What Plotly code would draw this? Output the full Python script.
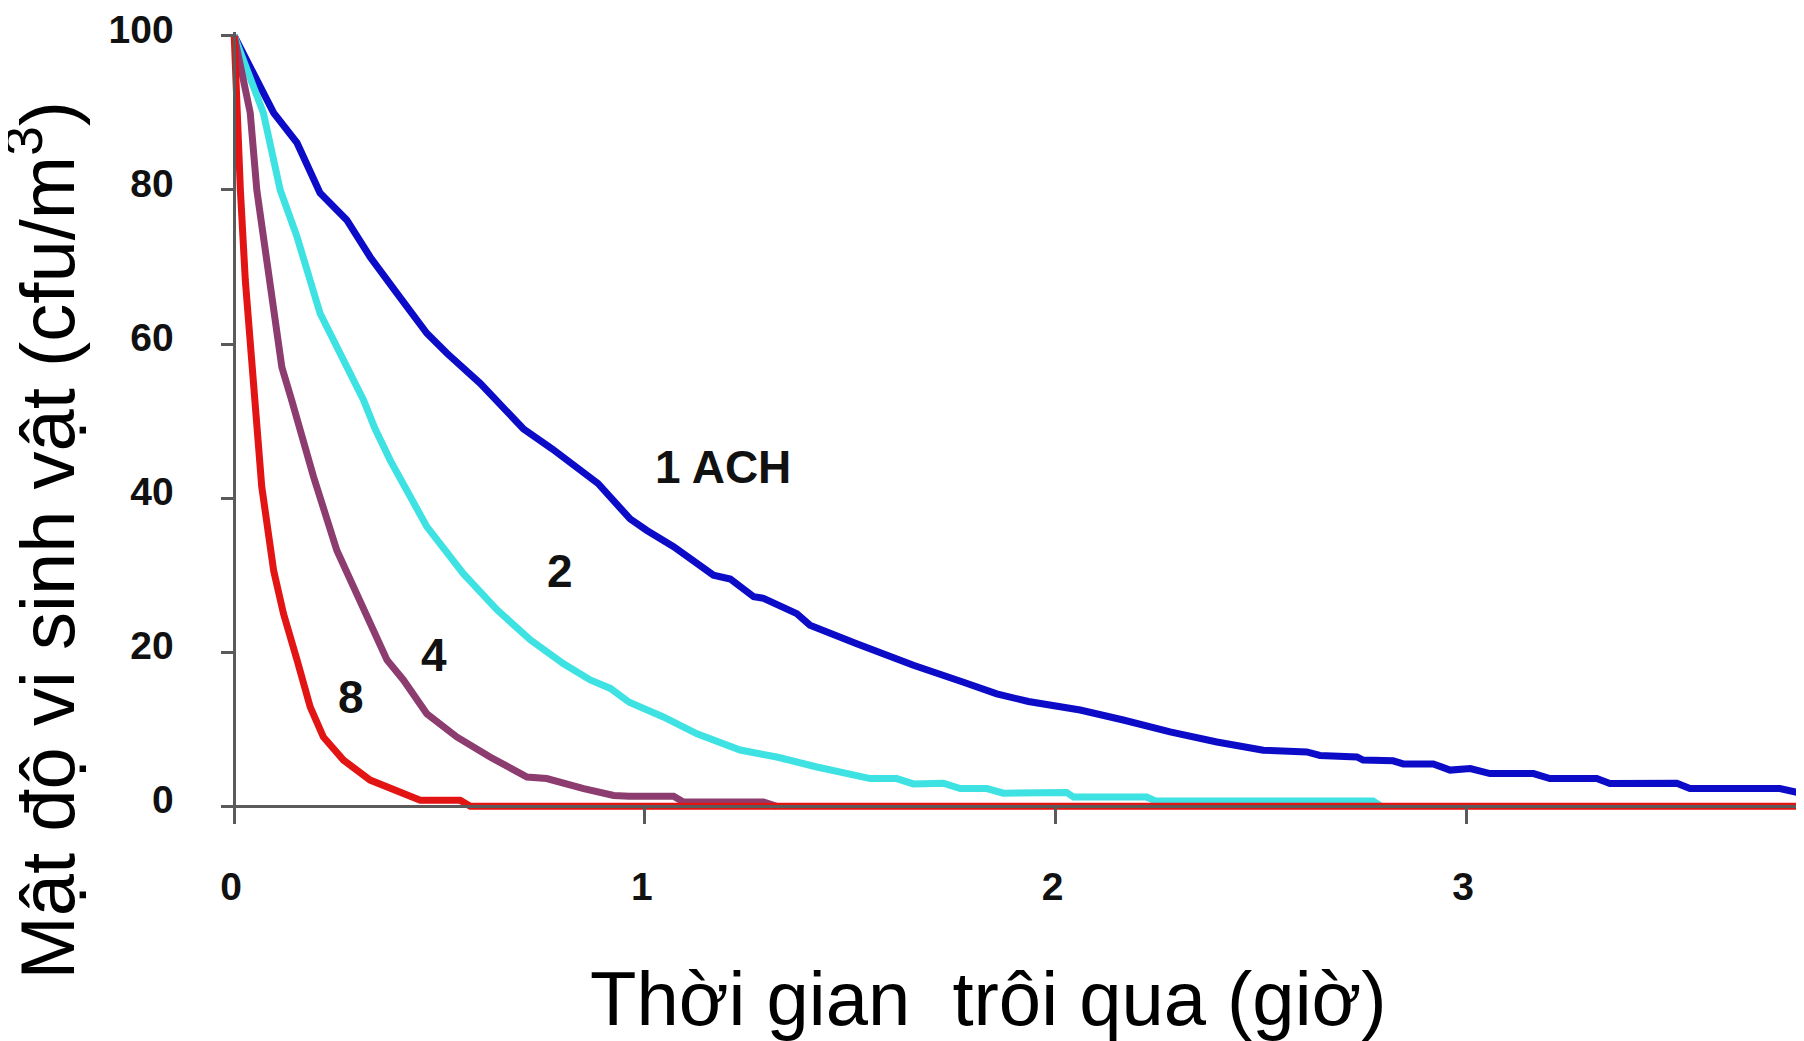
import plotly.graph_objects as go

# ---- data ----
t_ach1 = [0, 0.096, 0.153, 0.209, 0.274, 0.331, 0.396, 0.469, 0.518, 0.599, 0.704, 0.774, 0.886,
          0.964, 1.005, 1.07, 1.167, 1.208, 1.265, 1.289, 1.370, 1.402, 1.516, 1.654, 1.776, 1.857,
          1.934, 2.06, 2.165, 2.279, 2.393, 2.506, 2.612, 2.644, 2.734, 2.749, 2.822, 2.847, 2.92,
          2.961, 3.01, 3.058, 3.164, 3.204, 3.318, 3.350, 3.513, 3.545, 3.764, 3.805, 3.823]
v_ach1 = [100, 90.0, 86.1, 79.6, 76.1, 71.3, 66.6, 61.4, 58.8, 54.9, 49.0, 46.4, 41.9,
          37.3, 35.8, 33.7, 30.0, 29.5, 27.2, 27.0, 25.0, 23.5, 21.1, 18.3, 16.1, 14.6,
          13.6, 12.5, 11.2, 9.65, 8.35, 7.27, 7.05, 6.6, 6.4, 6.0, 5.9, 5.5, 5.5,
          4.7, 4.9, 4.25, 4.25, 3.6, 3.6, 2.95, 3.0, 2.3, 2.3, 1.7, 1.6]

t_ach2 = [0, 0.071, 0.112, 0.153, 0.209, 0.258, 0.315, 0.343, 0.380, 0.469, 0.558, 0.640, 0.721,
          0.802, 0.867, 0.916, 0.962, 1.045, 1.127, 1.232, 1.321, 1.419, 1.549, 1.613, 1.654,
          1.727, 1.768, 1.833, 1.873, 2.027, 2.044, 2.222, 2.243, 2.773, 2.79]
v_ach2 = [100, 90, 80, 73.9, 64, 58.8, 52.7, 49.0, 44.9, 36.3, 30.2, 25.5, 21.6,
          18.5, 16.4, 15.3, 13.5, 11.6, 9.4, 7.3, 6.4, 5.1, 3.6, 3.6, 2.9,
          3.0, 2.3, 2.3, 1.7, 1.8, 1.2, 1.2, 0.7, 0.7, 0.1]

t_ach4 = [0, 0.039, 0.055, 0.088, 0.116, 0.140, 0.153, 0.193, 0.250, 0.299, 0.372, 0.412, 0.469,
          0.542, 0.623, 0.713, 0.761, 0.851, 0.924, 0.962, 1.07, 1.094, 1.289, 1.321]
v_ach4 = [100, 90, 80, 68.3, 57, 52.7, 50.1, 42.8, 33.2, 27.6, 19, 16.4, 12.0,
          9.0, 6.4, 3.8, 3.6, 2.3, 1.4, 1.3, 1.3, 0.56, 0.56, 0]

t_ach8 = [0, 0.006, 0.015, 0.027, 0.039, 0.055, 0.067, 0.096, 0.120, 0.153, 0.185, 0.217, 0.266,
          0.331, 0.396, 0.453, 0.550, 0.575, 3.823]
v_ach8 = [100, 90, 80, 68.3, 59.6, 50, 41.5, 30.6, 25, 19, 12.9, 9.0, 6.0,
          3.4, 1.9, 0.8, 0.8, 0, 0]

x_ticks = [0, 1, 2, 3]
x_tick_labels = ["0", "1", "2", "3"]
y_ticks = [0, 20, 40, 60, 80, 100]
y_tick_labels = ["0", "20", "40", "60", "80", "100"]

curve_labels = ["1 ACH", "2", "4", "8"]
label_t = [1.191, 0.794, 0.487, 0.285]
label_v = [44.0, 30.5, 19.6, 14.2]

x_title = "Thời gian  trôi qua (giờ)"
y_title = "Mật độ vi sinh vật (cfu/m<sup>3</sup>)"

# ---- figure ----
series = [
    (t_ach1, v_ach1, "#0C0CC8", "1 ACH"),
    (t_ach2, v_ach2, "#3EE2E2", "2 ACH"),
    (t_ach4, v_ach4, "#8C3C6E", "4 ACH"),
    (t_ach8, v_ach8, "#E21414", "8 ACH"),
]

fig = go.Figure()
for t, v, c, n in series:
    fig.add_trace(go.Scatter(x=t, y=v, mode="lines", name=n,
                             line=dict(color=c, width=7)))

XR = [-0.02, 3.8227]
YR = [-1, 100.5]
xpos = (0 - XR[0]) / (XR[1] - XR[0])
ypos = (0 - YR[0]) / (YR[1] - YR[0])

axis_col = "#5a5a5a"
tick_font = dict(family="Liberation Sans, Arial, sans-serif", size=39, color="#111111")

fig.update_layout(
    width=1796, height=1033,
    margin=dict(l=218, r=0, t=24, b=227),
    paper_bgcolor="white", plot_bgcolor="white",
    showlegend=False,
    xaxis=dict(range=XR, anchor="free", position=ypos,
               tickvals=x_ticks, ticktext=["<b>%s</b>" % s for s in x_tick_labels],
               ticks="outside", ticklen=16, tickwidth=2.5, tickcolor=axis_col,
               showline=True, linecolor=axis_col, linewidth=2.5,
               showgrid=False, zeroline=False, tickfont=tick_font,
               ticklabelstandoff=29, ticklabelshift=-3, ticklabeloverflow="allow"),
    yaxis=dict(range=YR, anchor="free", position=xpos,
               tickvals=y_ticks, ticktext=["<b>%s</b>" % s for s in y_tick_labels],
               ticks="outside", ticklen=12, tickwidth=2.5, tickcolor=axis_col,
               showline=True, linecolor=axis_col, linewidth=2.5,
               showgrid=False, zeroline=False, tickfont=tick_font,
               ticklabelstandoff=40, ticklabelshift=-7, ticklabeloverflow="allow"),
)

for s, tx, vy in zip(curve_labels, label_t, label_v):
    fig.add_annotation(x=tx, y=vy, xref="x", yref="y", text="<b>%s</b>" % s,
                       showarrow=False, xanchor="center", yanchor="middle",
                       font=dict(family="Liberation Sans, Arial, sans-serif", size=46, color="#111111"))

title_font = dict(family="Liberation Sans, Arial, sans-serif", size=76, color="black")
fig.add_annotation(x=-0.1165, y=0.35, xref="paper", yref="paper", text=y_title,
                   textangle=-90, showarrow=False, xanchor="center", yanchor="middle",
                   font=title_font)
fig.add_annotation(x=0.4835, y=-0.236, xref="paper", yref="paper", text=x_title,
                   showarrow=False, xanchor="center", yanchor="middle",
                   font=title_font)

fig.write_html("out.html")
